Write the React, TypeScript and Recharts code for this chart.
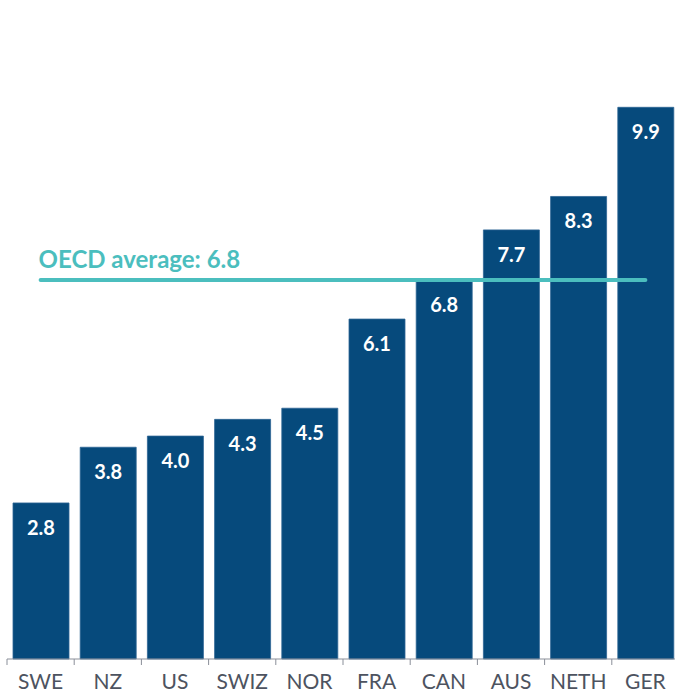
import React from "react";
import { BarChart, Bar, XAxis, YAxis, ReferenceLine, LabelList } from "recharts";

const countries = ["SWE", "NZ", "US", "SWIZ", "NOR", "FRA", "CAN", "AUS", "NETH", "GER"];
const values = [2.8, 3.8, 4.0, 4.3, 4.5, 6.1, 6.8, 7.7, 8.3, 9.9];
const oecdAverage = 6.8;
const oecdLabel = "OECD average: 6.8";

const data = countries.map((c, i) => ({ country: c, value: values[i] }));

const BAR_COLOR = "#064A7C";
const TEAL = "#4BBEBE";
const FONT = "Lato, 'Open Sans', sans-serif";

const Tick = (props: any) => {
  const { x, y, payload } = props;
  const half = 33.6;
  return (
    <g>
      <line x1={x - half} x2={x - half} y1={y} y2={y + 6} stroke="#8a8f99" strokeWidth={1} />
      <text
        x={x}
        y={y + 21}
        textAnchor="middle"
        dominantBaseline="central"
        fontFamily={FONT}
        fontSize={21}
        fill="#4d5360"
      >
        {payload.value}
      </text>
    </g>
  );
};

const BarLabel = (props: any) => {
  const { x, y, width, value } = props;
  return (
    <text
      x={x + width / 2}
      y={y + 24}
      textAnchor="middle"
      dominantBaseline="central"
      fontFamily={FONT}
      fontWeight={700}
      fontSize={20}
      fill="#ffffff"
    >
      {Number(value).toFixed(1)}
    </text>
  );
};

const OecdLabel = (props: any) => {
  const vb = props.viewBox || {};
  return (
    <text
      x={vb.x - 2}
      y={vb.y - 22}
      textAnchor="start"
      dominantBaseline="central"
      fontFamily={FONT}
      fontWeight={700}
      fontSize={24}
      fill={TEAL}
    >
      {oecdLabel}
    </text>
  );
};

export default function App() {
  return (
    <div style={{ position: "absolute", left: 0, top: 0, width: 675, height: 692, overflow: "hidden", background: "#fff" }}>
      <BarChart width={680} height={692} data={data} margin={{ top: 46, right: 1, left: 7, bottom: 3 }}>
        <YAxis hide domain={[0, 11]} type="number" />
        <XAxis
          dataKey="country"
          height={30}
          tickSize={0}
          tickMargin={0}
          tick={<Tick />}
          axisLine={{ stroke: "#8a8f99", strokeWidth: 1 }}
          interval={0}
        />
        <Bar dataKey="value" fill={BAR_COLOR} stroke="#2d6594" strokeWidth={0.8} barSize={56} isAnimationActive={false}>
          <LabelList dataKey="value" content={<BarLabel />} />
        </Bar>
        <ReferenceLine
          segment={[
            { x: countries[0], y: oecdAverage },
            { x: countries[countries.length - 1], y: oecdAverage },
          ]}
          stroke={TEAL}
          strokeWidth={4}
          strokeLinecap="round"
          label={<OecdLabel />}
        />
      </BarChart>
    </div>
  );
}
